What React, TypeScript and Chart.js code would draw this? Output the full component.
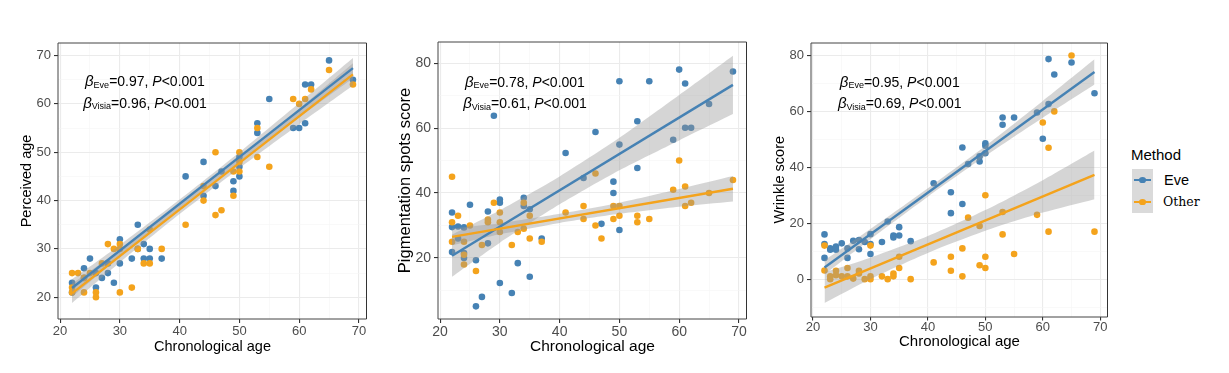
import React, { useEffect, useRef } from "react";
import { Chart, registerables } from "chart.js";

Chart.register(...registerables);

const SANS = "'Liberation Sans', Arial, Helvetica, sans-serif";
const SERIF = "'DejaVu Serif', 'Liberation Serif', serif";
const EVE_COLOR = "#4682B4";
const OTHER_COLOR = "#F4A31C";
const BAND_COLOR = "rgba(150,150,150,0.4)";

type Pt = [number, number];

// ---------- shared axis values ----------
const xMajorTicks = [20, 30, 40, 50, 60, 70];
const xMinorTicks = [25, 35, 45, 55, 65];
const fitAges = [22, 30, 40, 50, 60, 69];

// ---------- Panel 1: Perceived age ----------
const perceivedEve: Pt[] = [[22,23],[22,21],[24,26],[24,24],[25,28],[26,22],[26,25],[27,24],[28,27],[28,25],[29,23],[30,32],[30,27],[32,28],[33,35],[33,30],[34,31],[34,28],[35,30],[35,28],[37,28],[41,45],[44,48],[44,41],[46,43],[47,46],[49,44],[49,42],[50,47],[50,45],[50,49],[53,56],[53,54],[55,61],[59,55],[60,55],[61,64],[61,56],[62,64],[65,69],[69,65]];
const perceivedOther: Pt[] = [[22,25],[22,22],[22,21],[23,25],[24,24],[24,21],[25,25],[26,21],[26,20],[27,27],[28,31],[29,30],[30,31],[30,30],[30,21],[32,22],[33,30],[34,27],[35,34],[35,27],[37,30],[41,35],[44,43],[44,40],[46,50],[46,37],[47,38],[49,46],[49,41],[50,50],[50,48],[50,46],[53,55],[53,49],[55,47],[59,61],[60,60],[61,61],[62,63],[65,67],[69,64]];
const perceivedEveFit = [21.9, 29.6, 39.3, 49.0, 58.7, 67.4];
const perceivedEveBand = [1.8, 1.2, 0.9, 1.0, 1.5, 2.1];
const perceivedOtherFit = [20.8, 28.5, 38.2, 47.8, 57.4, 66.1];
const perceivedOtherBand = [2.0, 1.3, 1.0, 1.1, 1.6, 2.3];
const perceivedYMajor = [20, 30, 40, 50, 60, 70];
const perceivedYMinor = [25, 35, 45, 55, 65];

// ---------- Panel 2: Pigmentation spots score ----------
const pigmentEve: Pt[] = [[22,34],[22,29.5],[22,21.8],[23,29.7],[23,26],[24,29.4],[24,21.5],[24,20],[25,36.4],[26,19.3],[26,5.1],[27,8],[28,34.3],[28,24.5],[29,63.8],[30,38],[30,37],[30,12.3],[32,9.2],[33,18.4],[34,38.5],[34,36],[35,35],[35,14.2],[37,26],[41,52.3],[44,44.6],[46,58.8],[47,30.5],[49,43.5],[49,40],[50,74.4],[50,54.9],[50,28.6],[53,62.1],[53,47.7],[55,74.4],[59,56.4],[60,78],[61,73.7],[61,60.1],[62,60.1],[65,67.4],[69,77.4]];
const pigmentOther: Pt[] = [[22,45],[22,31],[22,25],[23,33],[24,25],[24,21],[24,18],[25,30],[26,16],[27,24],[28,31.8],[28,31],[29,37],[30,34],[30,31],[30,28],[32,24],[33,28],[34,37],[34,29],[35,33],[35,26],[37,25],[41,34],[44,36],[44,32],[46,46],[46,30],[47,26],[49,36],[49,32],[50,36],[50,33],[53,33],[53,31],[55,32],[59,41],[60,50],[61,42],[61,36],[62,37],[65,40],[69,44]];
const pigmentEveFit = [20.7, 29.7, 40.8, 52.0, 63.2, 73.3];
const pigmentEveBand = [6.5, 5.0, 4.3, 5.0, 7.0, 9.0];
const pigmentOtherFit = [26.5, 29.0, 32.2, 35.3, 38.5, 41.3];
const pigmentOtherBand = [2.6, 1.7, 1.4, 1.7, 2.7, 3.9];
const pigmentYMajor = [20, 40, 60, 80];
const pigmentYMinor = [10, 30, 50, 70];

// ---------- Panel 3: Wrinkle score ----------
const wrinkleEve: Pt[] = [[22,16],[22,12.6],[22,7.6],[23,11],[23,10.5],[24,11.7],[24,10.5],[25,12.8],[26,11],[26,7.6],[27,13.7],[28,14],[28,10.7],[29,13.3],[30,16.1],[30,12.6],[30,9],[32,13.3],[33,20.6],[34,15.6],[34,14.9],[35,18.6],[35,15.6],[37,13.6],[41,34.3],[44,31.1],[44,23.6],[46,47.1],[46,26.9],[47,41.2],[49,43.9],[49,42.1],[50,48.6],[50,47.7],[50,45],[53,57.8],[53,55.2],[55,57.8],[59,59.6],[60,50.2],[61,78.7],[61,62.6],[62,73.2],[65,77.5],[69,66.5]];
const wrinkleOther: Pt[] = [[22,12],[22,3.1],[23,1],[23,0],[24,3],[24,1.4],[25,1],[26,4],[26,1],[27,0.2],[28,3],[28,2],[29,0],[30,12],[30,1],[30,0],[32,1],[33,0],[34,2],[34,1],[35,8],[35,4],[37,0],[41,6],[44,8],[44,3],[46,11],[46,1],[47,22],[49,19],[49,5],[50,30],[50,8],[50,4],[53,24],[53,16],[55,9],[59,23],[60,56],[61,47],[61,17],[62,60],[65,80],[69,17]];
const wrinkleEveFit = [4.2, 16.1, 31.0, 45.8, 60.7, 74.1];
const wrinkleEveBand = [2.5, 1.8, 1.5, 1.8, 3.0, 4.5];
const wrinkleOtherFit = [-3.0, 3.9, 12.4, 21.0, 29.6, 37.3];
const wrinkleOtherBand = [5.5, 3.8, 3.0, 3.7, 5.8, 8.7];
const wrinkleYMajor = [0, 20, 40, 60, 80];
const wrinkleYMinor = [-10, 10, 30, 50, 70];

// ---------- annotation values ----------
const betaEve = ["0.97", "0.78", "0.95"];
const betaVisia = ["0.96", "0.61", "0.69"];

// ---------- layout (positions / styles only) ----------
const PANELS = [
  {
    left: 0, width: 380, area: { left: 58, right: 367, top: 43, bottom: 319 },
    yMin: 15.5, yMax: 72.6, yTitle: "Perceived age",
    tickSize: 13, xTitleSize: 14.5, yTitleSize: 14.5, xTitlePad: 17.6, yTitlePad: 18.3, xTickPad: 1,
    eve: perceivedEve, other: perceivedOther,
    eveFit: perceivedEveFit, eveBand: perceivedEveBand, otherFit: perceivedOtherFit, otherBand: perceivedOtherBand,
    yMajor: perceivedYMajor, yMinor: perceivedYMinor,
    annot: { x: 34.2, y1: 64.7, y2: 60.2 }, idx: 0,
  },
  {
    left: 380, width: 380, area: { left: 58, right: 367, top: 42, bottom: 319 },
    yMin: 1.2, yMax: 86.5, yTitle: "Pigmentation spots score",
    tickSize: 14, xTitleSize: 15.5, yTitleSize: 16.5, xTitlePad: 17, yTitlePad: 15.1, xTickPad: 1,
    eve: pigmentEve, other: pigmentOther,
    eveFit: pigmentEveFit, eveBand: pigmentEveBand, otherFit: pigmentOtherFit, otherBand: pigmentOtherBand,
    yMajor: pigmentYMajor, yMinor: pigmentYMinor,
    annot: { x: 34.2, y1: 74.3, y2: 67.7 }, idx: 1,
  },
  {
    left: 760, width: 360, area: { left: 51, right: 348, top: 43, bottom: 316.5 },
    yMin: -13.35, yMax: 84.45, yTitle: "Wrinkle score",
    tickSize: 13, xTitleSize: 15, yTitleSize: 14.5, xTitlePad: 22, yTitlePad: 11.3, xTickPad: -1,
    eve: wrinkleEve, other: wrinkleOther,
    eveFit: wrinkleEveFit, eveBand: wrinkleEveBand, otherFit: wrinkleOtherFit, otherBand: wrinkleOtherBand,
    yMajor: wrinkleYMajor, yMinor: wrinkleYMinor,
    annot: { x: 35.1, y1: 70.6, y2: 62.9 }, idx: 2,
  },
];

const CANVAS_H = 373;

function isIn(v: number, arr: number[]) {
  return arr.some((m) => Math.abs(m - v) < 1e-6);
}

function drawBeta(ctx: CanvasRenderingContext2D, cx: number, cy: number, sub: string, val: string) {
  const parts = [
    { t: "\u03B2", f: `italic 15px ${SANS}`, dy: 0 },
    { t: sub, f: `9px ${SANS}`, dy: 1.5 },
    { t: `=${val}, `, f: `14px ${SANS}`, dy: 0 },
    { t: "P", f: `italic 14px ${SANS}`, dy: 0 },
    { t: "<0.001", f: `14px ${SANS}`, dy: 0 },
  ];
  let total = 0;
  const widths = parts.map((p) => {
    ctx.font = p.f;
    const w = ctx.measureText(p.t).width;
    total += w;
    return w;
  });
  let x = cx - total / 2;
  const base = cy + 5;
  ctx.fillStyle = "#000";
  ctx.textBaseline = "alphabetic";
  ctx.textAlign = "left";
  parts.forEach((p, i) => {
    ctx.font = p.f;
    ctx.fillText(p.t, x, base + p.dy);
    x += widths[i];
  });
}

function Panel({ p }: { p: (typeof PANELS)[number] }) {
  const ref = useRef<HTMLCanvasElement>(null);
  useEffect(() => {
    const canvas = ref.current!;
    const toXY = (pts: Pt[]) => pts.map(([x, y]) => ({ x, y }));
    const band = (fit: number[], hw: number[], s: number) => fitAges.map((x, i) => ({ x, y: fit[i] + s * hw[i] }));
    const ends = (fit: number[]) => [
      { x: fitAges[0], y: fit[0] },
      { x: fitAges[fitAges.length - 1], y: fit[fit.length - 1] },
    ];
    const bandDs = (data: any[], fill: any, order: number) => ({
      type: "line" as const, data, borderWidth: 0, borderColor: "rgba(0,0,0,0)", pointRadius: 0,
      fill, backgroundColor: BAND_COLOR, order, tension: 0.25,
    });
    const xAll = [...xMajorTicks, ...xMinorTicks].sort((a, b) => a - b);
    const yAll = [...p.yMajor, ...p.yMinor].sort((a, b) => a - b);

    const overlay = {
      id: "overlay",
      afterDraw(chart: any) {
        const { ctx, chartArea: a, scales } = chart;
        ctx.save();
        ctx.strokeStyle = "#444";
        ctx.lineWidth = 1;
        const L = Math.round(a.left), T = Math.round(a.top), B = Math.round(a.bottom), R = Math.round(a.right) - 0.5;
        ctx.beginPath();
        ctx.moveTo(R, T); ctx.lineTo(L, T); ctx.lineTo(L, B); ctx.lineTo(R, B);
        ctx.stroke();
        ctx.strokeStyle = "#333";
        ctx.beginPath();
        ctx.moveTo(R, T); ctx.lineTo(R, B);
        ctx.stroke();
        const cx = scales.x.getPixelForValue(p.annot.x);
        drawBeta(ctx, cx, scales.y.getPixelForValue(p.annot.y1), "Eve", betaEve[p.idx]);
        drawBeta(ctx, cx, scales.y.getPixelForValue(p.annot.y2), "Visia", betaVisia[p.idx]);
        ctx.restore();
      },
    };

    const dot = (color: string, order: number, pts: Pt[]) => ({
      type: "scatter" as const, data: toXY(pts), pointStyle: "circle", pointRadius: 3.3,
      backgroundColor: color, borderColor: color, borderWidth: 0, order,
    });

    const chart = new Chart(canvas, {
      type: "scatter",
      data: {
        datasets: [
          dot(EVE_COLOR, 6, p.eve),
          dot(OTHER_COLOR, 5, p.other),
          bandDs(band(p.eveFit, p.eveBand, -1), false, 4),
          bandDs(band(p.eveFit, p.eveBand, 1), "-1", 4),
          bandDs(band(p.otherFit, p.otherBand, -1), false, 3),
          bandDs(band(p.otherFit, p.otherBand, 1), "-1", 3),
          { type: "line", data: ends(p.eveFit), borderColor: EVE_COLOR, borderWidth: 2.4, pointRadius: 0, fill: false, order: 2 },
          { type: "line", data: ends(p.otherFit), borderColor: OTHER_COLOR, borderWidth: 2.4, pointRadius: 0, fill: false, order: 1 },
        ] as any,
      },
      options: {
        responsive: false,
        animation: false,
        events: [],
        layout: { padding: { top: p.area.top, right: p.width - p.area.right, left: 0, bottom: 0 } },
        plugins: { legend: { display: false }, tooltip: { enabled: false } },
        scales: {
          x: {
            type: "linear",
            min: 19.65,
            max: 71.35,
            afterBuildTicks: (s: any) => { s.ticks = xAll.map((v) => ({ value: v })); },
            afterFit: (s: any) => { s.height = CANVAS_H - p.area.bottom; },
            ticks: {
              autoSkip: false, maxRotation: 0, padding: p.xTickPad, color: "#4d4d4d",
              font: { family: SANS, size: p.tickSize },
              callback: (v: any) => (isIn(Number(v), xMajorTicks) ? String(v) : ""),
            },
            grid: {
              color: (c: any) => (isIn(c.tick?.value, xMajorTicks) ? "#EBEBEB" : "#F5F5F5"),
              lineWidth: (c: any) => (isIn(c.tick?.value, xMajorTicks) ? 1.1 : 0.6),
              tickColor: (c: any) => (isIn(c.tick?.value, xMajorTicks) ? "#333" : "rgba(0,0,0,0)"),
              tickLength: 4,
              drawTicks: true,
            },
            border: { display: false },
            title: {
              display: true, text: "Chronological age", color: "#000",
              font: { family: SANS, size: p.xTitleSize }, padding: { top: 0, bottom: p.xTitlePad },
            },
          },
          y: {
            type: "linear",
            min: p.yMin,
            max: p.yMax,
            afterBuildTicks: (s: any) => { s.ticks = yAll.map((v) => ({ value: v })); },
            afterFit: (s: any) => { s.width = p.area.left; },
            ticks: {
              autoSkip: false, padding: 3, color: "#4d4d4d",
              font: { family: SANS, size: p.tickSize },
              callback: (v: any) => (isIn(Number(v), p.yMajor) ? String(v) : ""),
            },
            grid: {
              color: (c: any) => (isIn(c.tick?.value, p.yMajor) ? "#EBEBEB" : "#F5F5F5"),
              lineWidth: (c: any) => (isIn(c.tick?.value, p.yMajor) ? 1.1 : 0.6),
              tickColor: (c: any) => (isIn(c.tick?.value, p.yMajor) ? "#333" : "rgba(0,0,0,0)"),
              tickLength: 4,
              drawTicks: true,
            },
            border: { display: false },
            title: {
              display: true, text: p.yTitle, color: "#000",
              font: { family: SANS, size: p.yTitleSize }, padding: { top: p.yTitlePad, bottom: 0 },
            },
          },
        },
      } as any,
      plugins: [overlay],
    });
    return () => chart.destroy();
  }, [p]);
  return (
    <canvas
      ref={ref}
      width={p.width}
      height={CANVAS_H}
      style={{ position: "absolute", left: p.left, top: 0, width: p.width, height: CANVAS_H }}
    />
  );
}

function LegendKey({ top, color }: { top: number; color: string }) {
  return (
    <>
      <div style={{ position: "absolute", left: 1134, top: top - 1.2, width: 17, height: 2.4, background: color }} />
      <div style={{ position: "absolute", left: 1139, top: top - 3, width: 7.4, height: 6, borderRadius: "50%", background: color }} />
    </>
  );
}

function Legend() {
  return (
    <>
      <div style={{ position: "absolute", left: 1131, top: 146, fontFamily: SANS, fontSize: 15, lineHeight: "18px", color: "#000" }}>Method</div>
      <div style={{ position: "absolute", left: 1132, top: 169, width: 21, height: 44, background: "#DADADA" }} />
      <LegendKey top={180} color={EVE_COLOR} />
      <LegendKey top={202} color={OTHER_COLOR} />
      <div style={{ position: "absolute", left: 1164, top: 171, fontFamily: SANS, fontSize: 14.5, lineHeight: "18px", color: "#000" }}>Eve</div>
      <div style={{ position: "absolute", left: 1163, top: 193, fontFamily: SERIF, fontSize: 12.5, lineHeight: "18px", color: "#000" }}>Other</div>
    </>
  );
}

export default function App() {
  return (
    <div style={{ position: "absolute", left: 0, top: 0, width: 1229, height: 373, background: "#fff", overflow: "hidden" }}>
      {PANELS.map((p, i) => (
        <Panel key={i} p={p} />
      ))}
      <Legend />
    </div>
  );
}
